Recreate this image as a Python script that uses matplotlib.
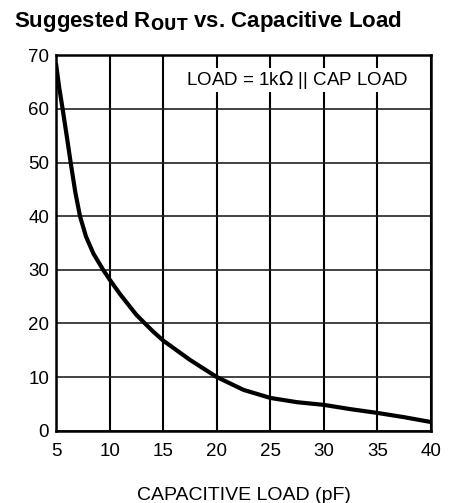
import numpy as np
import matplotlib
matplotlib.use('Agg')
import matplotlib.pyplot as plt

# Datos
cap_load = [5, 5.3, 5.62, 6.0, 6.37, 6.8, 7.24, 7.8, 8.5, 9.4, 10, 11, 12.5, 14, 15, 17.5, 20,
            22.5, 25, 27.5, 30, 32.5, 35, 37.5, 40]
r_out = [68.5, 64, 60, 55, 50, 44.5, 40, 36.2, 33, 30, 28.2, 25.4, 21.6, 18.6, 16.8, 13.2, 10,
         7.6, 6.1, 5.3, 4.8, 4.0, 3.3, 2.5, 1.6]
x_ticks = [5, 10, 15, 20, 25, 30, 35, 40]
y_ticks = [0, 10, 20, 30, 40, 50, 60, 70]

plt.rcParams['font.family'] = ['Liberation Sans', 'DejaVu Sans']

fig = plt.figure(figsize=(4.49, 5.03), dpi=100)
ax = fig.add_axes([0.1247, 0.1439, 0.8353, 0.746])

ax.plot(cap_load, r_out, color='k', linewidth=3.0, solid_capstyle='butt',
        solid_joinstyle='round', zorder=3)

ax.set_xlim(5, 40)
ax.set_ylim(0, 70)
ax.set_xticks(x_ticks)
ax.set_yticks(y_ticks)
ax.tick_params(length=0, labelsize=13.5)
ax.tick_params(axis='y', pad=5)
ax.tick_params(axis='x', pad=9)
ax.grid(True, axis='x', color='k', linewidth=1.5)
ax.grid(True, axis='y', color='#222222', linewidth=1.2)
for s in ax.spines.values():
    s.set_linewidth(1.8)

ax.text(0.939, 0.934, 'LOAD = 1k$\\Omega$ || CAP LOAD', transform=ax.transAxes,
        ha='right', va='center', fontsize=13.5,
        bbox=dict(facecolor='white', edgecolor='none', pad=0.5), zorder=4)

ax.set_xlabel('CAPACITIVE LOAD (pF)', fontsize=14, labelpad=19)
fig.text(0.031, 0.958, 'Suggested R$_{\\mathbf{OUT}}$ vs. Capacitive Load',
         fontsize=16, fontweight='bold', ha='left', va='center')

fig.savefig('out.png', dpi=100)
